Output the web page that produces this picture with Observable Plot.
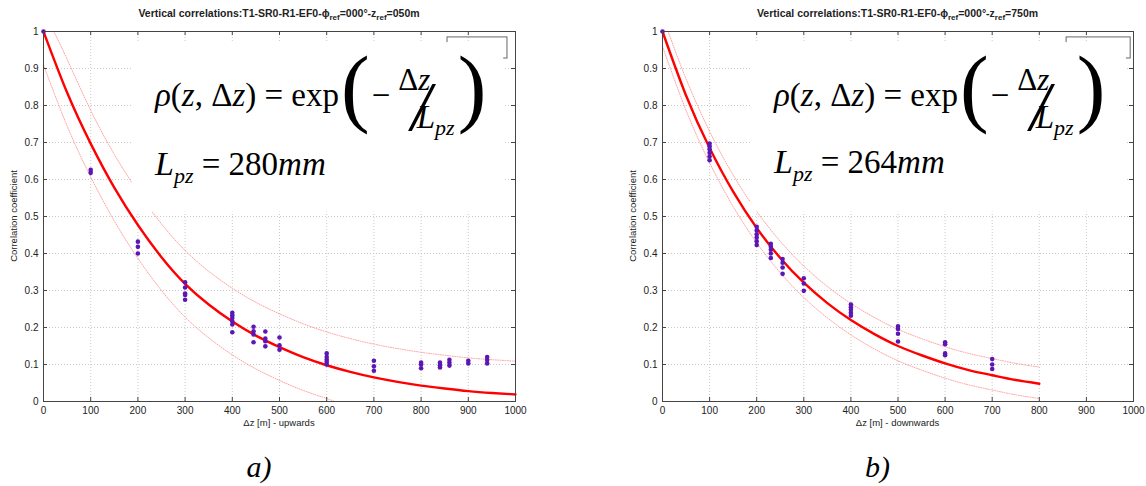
<!DOCTYPE html>
<html><head><meta charset="utf-8">
<script src="https://cdn.jsdelivr.net/npm/d3@7"></script>
<script src="https://cdn.jsdelivr.net/npm/@observablehq/plot@0.6"></script>
<style>
body{margin:0;background:#fff;}
#wrap{display:flex;width:1146px;height:486px;background:#fff;}
</style></head><body><div id="wrap"></div>
<script>
// ---------- tick labels ----------
const xTicks = [0, 100, 200, 300, 400, 500, 600, 700, 800, 900, 1000];
const yTicks = [0, 0.1, 0.2, 0.3, 0.4, 0.5, 0.6, 0.7, 0.8, 0.9, 1];

// ---------- panel a) upwards, z_ref = 050m ----------
const upPointX = [0, 100, 200, 300, 400, 445, 470, 500, 600, 700, 800, 840, 860, 900, 940];
const upPointR = [
  [1],
  [0.618, 0.626],
  [0.40, 0.418, 0.432],
  [0.275, 0.288, 0.292, 0.308, 0.322],
  [0.187, 0.208, 0.217, 0.226, 0.233, 0.24],
  [0.16, 0.181, 0.19, 0.202],
  [0.149, 0.163, 0.17, 0.189],
  [0.14, 0.152, 0.173],
  [0.10, 0.107, 0.113, 0.12, 0.13],
  [0.083, 0.095, 0.11],
  [0.09, 0.10, 0.105],
  [0.092, 0.098, 0.105],
  [0.097, 0.105, 0.113],
  [0.103, 0.11],
  [0.103, 0.112, 0.12]
];
const upFitX = [0, 50, 100, 150, 200, 250, 300, 350, 400, 450, 500, 550, 600, 650, 700, 750, 800, 850, 900, 950, 1000];
const upFitR = [1, 0.835, 0.697, 0.578, 0.477, 0.39, 0.318, 0.262, 0.216, 0.178, 0.147, 0.12, 0.098, 0.08, 0.065, 0.053, 0.043, 0.035, 0.028, 0.023, 0.019];
const upHiX = [22, 50, 100, 150, 200, 250, 300, 350, 400, 450, 500, 550, 600, 650, 700, 750, 800, 850, 900, 950, 1000];
const upHiR = [1.0, 0.925, 0.787, 0.668, 0.567, 0.48, 0.408, 0.352, 0.306, 0.268, 0.237, 0.21, 0.188, 0.17, 0.155, 0.143, 0.133, 0.125, 0.118, 0.113, 0.109];
const upLoX = [0, 50, 100, 150, 200, 250, 300, 350, 400, 450, 500, 550, 600, 617];
const upLoR = [0.91, 0.745, 0.607, 0.488, 0.387, 0.30, 0.228, 0.172, 0.126, 0.088, 0.057, 0.03, 0.008, 0];

// ---------- panel b) downwards, z_ref = 750m ----------
const dnPointX = [0, 100, 200, 230, 255, 300, 400, 500, 600, 700];
const dnPointR = [
  [1],
  [0.652, 0.662, 0.672, 0.682, 0.69, 0.697],
  [0.423, 0.433, 0.443, 0.452, 0.462, 0.472],
  [0.388, 0.40, 0.41, 0.418, 0.426],
  [0.345, 0.362, 0.375, 0.385],
  [0.299, 0.319, 0.333],
  [0.232, 0.24, 0.248, 0.255, 0.262],
  [0.162, 0.183, 0.196, 0.203],
  [0.125, 0.13, 0.155, 0.16],
  [0.088, 0.10, 0.115]
];
const dnFitX = [0, 50, 100, 150, 200, 250, 300, 350, 400, 450, 500, 550, 600, 650, 700, 750, 800];
const dnFitR = [1, 0.827, 0.685, 0.567, 0.469, 0.388, 0.321, 0.266, 0.22, 0.182, 0.150, 0.125, 0.103, 0.085, 0.071, 0.058, 0.048];
const dnHiX = [12, 50, 100, 150, 200, 250, 300, 350, 400, 450, 500, 550, 600, 650, 700, 750, 800];
const dnHiR = [1.0, 0.872, 0.73, 0.612, 0.514, 0.433, 0.366, 0.311, 0.265, 0.227, 0.195, 0.17, 0.148, 0.13, 0.116, 0.103, 0.093];
const dnLoX = [0, 50, 100, 150, 200, 250, 300, 350, 400, 450, 500, 550, 600, 650, 700, 750, 800];
const dnLoR = [0.96, 0.787, 0.645, 0.527, 0.429, 0.348, 0.281, 0.226, 0.18, 0.142, 0.11, 0.085, 0.063, 0.045, 0.031, 0.018, 0.008];

const panels = [
  {
    title: ["Vertical correlations:T1-SR0-R1-EF0-ϕ", "ref", "=000°-z", "ref", "=050m"],
    xlabel: "Δz [m] - upwards", caption: "a)", Lvalue: "280",
    pointX: upPointX, pointR: upPointR, fitX: upFitX, fitR: upFitR,
    hiX: upHiX, hiR: upHiR, loX: upLoX, loR: upLoR,
    ml: 43, mr: 58,
    mask: {x1: 188, x2: 975, y1: 0.512, y2: 0.97},
    legend: {x1: 856, x2: 983, y1: 0.927, y2: 0.984},
    line2y: 175
  },
  {
    title: ["Vertical correlations:T1-SR0-R1-EF0-ϕ", "ref", "=000°-z", "ref", "=750m"],
    xlabel: "Δz [m] - downwards", caption: "b)", Lvalue: "264",
    pointX: dnPointX, pointR: dnPointR, fitX: dnFitX, fitR: dnFitR,
    hiX: dnHiX, hiR: dnHiR, loX: dnLoX, loR: dnLoR,
    ml: 89, mr: 13,
    mask: {x1: 187, x2: 985, y1: 0.512, y2: 0.97},
    legend: {x1: 858, x2: 994, y1: 0.927, y2: 0.984},
    line2y: 173
  }
];

const sans = "'Liberation Sans', Arial, sans-serif";
const serif = "'Liberation Serif', 'Times New Roman', serif";
const W = 573, H = 486, MT = 31, MB = 85;

function toRows(xs, rs) { return xs.map((x, i) => ({x, r: rs[i]})); }

// one text element, parts flow naturally; each part: [text, {size, italic, dx, dy}]
function flowText(sel, x, y, parts, baseSize) {
  const t = sel.append("text").attr("x", x).attr("y", y).attr("text-anchor", "start")
    .attr("font-family", serif).attr("font-size", baseSize).attr("fill", "#000")
    .style("white-space", "pre");
  parts.forEach(([str, o]) => {
    o = o || {};
    const ts = t.append("tspan").text(str).attr("font-size", o.size || baseSize)
      .attr("font-style", o.italic ? "italic" : "normal");
    if (o.dx) ts.attr("dx", o.dx);
    if (o.dy) ts.attr("dy", o.dy);
  });
  return t;
}

function buildPanel(p) {
  const pts = p.pointX.flatMap((x, i) => p.pointR[i].map(r => ({x, r})));
  const gridStyle = {stroke: "#bdbdbd", strokeOpacity: 1, strokeDasharray: "1,2", strokeWidth: 0.8};
  const svg = Plot.plot({
    width: W, height: H,
    marginLeft: p.ml, marginRight: p.mr, marginTop: MT, marginBottom: MB,
    style: {background: "white", fontFamily: sans, fontSize: "10px", color: "#222"},
    x: {domain: [0, 1000]},
    y: {domain: [0, 1]},
    marks: [
      Plot.gridX({ticks: xTicks, ...gridStyle}),
      Plot.gridY({ticks: yTicks, ...gridStyle}),
      Plot.line(toRows(p.hiX, p.hiR), {x: "x", y: "r", stroke: "#ff8a8a", strokeWidth: 0.8, strokeDasharray: "1,1.4", curve: "natural"}),
      Plot.line(toRows(p.loX, p.loR), {x: "x", y: "r", stroke: "#ff8a8a", strokeWidth: 0.8, strokeDasharray: "1,1.4", curve: "natural"}),
      Plot.rect([p.legend], {x1: "x1", x2: "x2", y1: "y1", y2: "y2", fill: "none", stroke: "#666", strokeWidth: 1}),
      Plot.rect([p.mask], {x1: "x1", x2: "x2", y1: "y1", y2: "y2", fill: "white"}),
      Plot.line(toRows(p.fitX, p.fitR), {x: "x", y: "r", stroke: "#ff0000", strokeWidth: 2.4, curve: "natural"}),
      Plot.dot(pts, {x: "x", y: "r", r: 2.3, fill: "#5b17b5", stroke: "none"}),
      Plot.ruleX(xTicks, {x: d => d, y1: () => 0, y2: () => 0.011, stroke: "#444"}),
      Plot.ruleX(xTicks, {x: d => d, y1: () => 1, y2: () => 0.989, stroke: "#444"}),
      Plot.ruleY(yTicks, {y: d => d, x1: () => 0, x2: () => 8.5, stroke: "#444"}),
      Plot.ruleY(yTicks, {y: d => d, x1: () => 1000, x2: () => 991.5, stroke: "#444"}),
      Plot.frame({stroke: "#444"}),
      Plot.axisX({ticks: xTicks, tickSize: 0, tickPadding: 5, label: null, fill: "#222", tickFormat: d => String(d)}),
      Plot.axisY({ticks: yTicks, tickSize: 0, tickPadding: 5, label: null, fill: "#222", tickFormat: d => d3.format("~g")(d)})
    ]
  });
  document.getElementById("wrap").appendChild(svg);
  const s = d3.select(svg);
  const plotW = W - p.ml - p.mr;
  const cx = p.ml + plotW / 2;

  // title with subscripts
  const t = s.append("text").attr("x", cx).attr("y", 17).attr("text-anchor", "middle")
    .attr("font-family", sans).attr("font-size", 10.5).attr("font-weight", "bold").attr("fill", "#222");
  p.title.forEach((part, i) => {
    const sub = i % 2 === 1;
    const ts = t.append("tspan").text(part);
    if (sub) ts.attr("font-size", 8).attr("dy", 2.5);
    else if (i > 0) ts.attr("dy", -2.5);
  });

  // axis labels
  s.append("text").attr("x", cx).attr("y", 426).attr("text-anchor", "middle")
    .attr("font-family", sans).attr("font-size", 9.5).attr("fill", "#222").text(p.xlabel);
  s.append("text").attr("transform", `translate(${p.ml - 26},${MT + (H - MT - MB) / 2}) rotate(-90)`)
    .attr("text-anchor", "middle").attr("font-family", sans).attr("font-size", 9.5).attr("fill", "#222")
    .text("Correlation coefficient");

  // caption
  s.append("text").attr("x", cx - 20).attr("y", 477).attr("text-anchor", "middle")
    .attr("font-family", serif).attr("font-size", 30).attr("font-style", "italic").attr("fill", "#000")
    .text(p.caption);

  // formula, line 1
  const x0 = p.ml + 112;
  flowText(s, x0, 106, [
    ["ρ", {italic: true}],
    ["("],
    ["z", {italic: true}],
    [", Δ"],
    ["z", {italic: true}],
    [") = exp"],
    ["(", {size: 86, dy: 10, dx: 2}],
    ["−", {dy: -10, dx: 2}],
    ["Δ", {size: 31, dy: -16, dx: 8}],
    ["z", {size: 31, italic: true}],
    ["/", {size: 70, italic: true, dy: 40, dx: -19}],
    ["L", {italic: true, dy: -2, dx: -14}],
    ["pz", {italic: true, size: 22, dy: 7}],
    [")", {size: 86, dy: -19, dx: 3}]
  ], 33);

  // formula, line 2
  flowText(s, x0, p.line2y, [
    ["L", {italic: true, size: 34}],
    ["pz", {italic: true, size: 22, dy: 8}],
    [" = " + p.Lvalue, {dy: -8}],
    ["mm", {italic: true}]
  ], 33);
}

panels.forEach(buildPanel);
</script>
</body></html>
